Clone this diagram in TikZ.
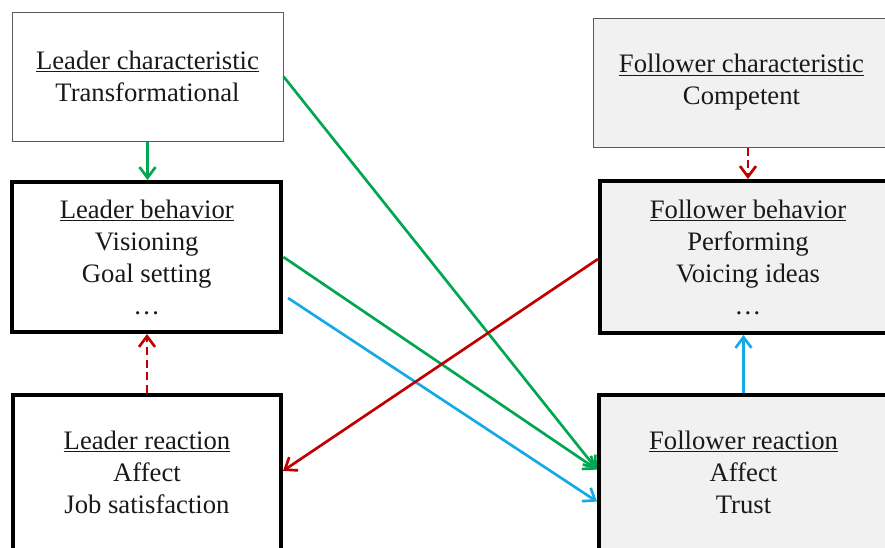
\documentclass[tikz,border=0pt]{standalone}
\usepackage{fontspec}
\setmainfont{Liberation Serif}
\usetikzlibrary{arrows.meta}
\definecolor{cgreen}{RGB}{0,166,80}
\definecolor{cblue}{RGB}{20,170,230}
\definecolor{cred}{RGB}{192,0,0}
\definecolor{cgray}{RGB}{241,241,241}
\definecolor{cthin}{RGB}{90,90,90}
\begin{document}
\begin{tikzpicture}[x=0.75pt,y=-0.75pt,
  box/.style={rectangle, align=center, font=\fontsize{20}{24}\selectfont, inner sep=0pt, text=black!90},
  thinbox/.style={box, draw=cthin, line width=0.75pt},
  thickbox/.style={box, draw=black, line width=3pt},
  gfill/.style={fill=cgray},
  conn/.style={line width=2pt, -{Straight Barb[length=8pt,width=12pt]}},
  dconn/.style={conn, dash pattern=on 6pt off 3.5pt}]
\useasboundingbox (0,0) rectangle (885,547);

\node[thinbox, minimum width=203.25pt, minimum height=96.75pt] (lc) at (147.5,76.5)
  {\underline{Leader characteristic}\\Transformational};
\node[thickbox, minimum width=202pt, minimum height=112.5pt] (lb) at (146.75,257)
  {\underline{Leader behavior}\\Visioning\\Goal setting\\…};
\node[thickbox, minimum width=201pt, minimum height=115.9pt] (lr) at (147,472.25)
  {\underline{Leader reaction}\\Affect\\Job satisfaction};

\node[thinbox, gfill, minimum width=222.75pt, minimum height=96.75pt] (fc) at (741.5,82.5)
  {\underline{Follower characteristic}\\Competent};
\node[thickbox, gfill, minimum width=222pt, minimum height=114pt] (fb) at (748,257)
  {\underline{Follower behavior}\\Performing\\Voicing ideas\\…};
\node[thickbox, gfill, minimum width=216.75pt, minimum height=115.9pt] (fr) at (743.5,472.25)
  {\underline{Follower reaction}\\Affect\\Trust};

\coordinate (bs) at (288,298);

\draw[conn, cgreen] (lc.south) -- (lc.south |- lb.north);
\draw[conn, cgreen] (lc.east) -- ([yshift=2pt]fr.west);
\draw[conn, cgreen] (lb.east) -- ([yshift=2pt]fr.west);
\draw[conn, cblue] (bs) -- ([yshift=-22pt]fr.west);
\draw[conn, cred] ([yshift=-1.5pt]fb.west) -- ([yshift=1pt]lr.east);
\draw[dconn, cred] (fb.north |- fc.south) -- (fb.north);
\draw[dconn, cred] (lr.north) -- (lr.north |- lb.south);
\draw[conn, cblue] (fr.north) -- (fr.north |- fb.south);
\end{tikzpicture}
\end{document}
